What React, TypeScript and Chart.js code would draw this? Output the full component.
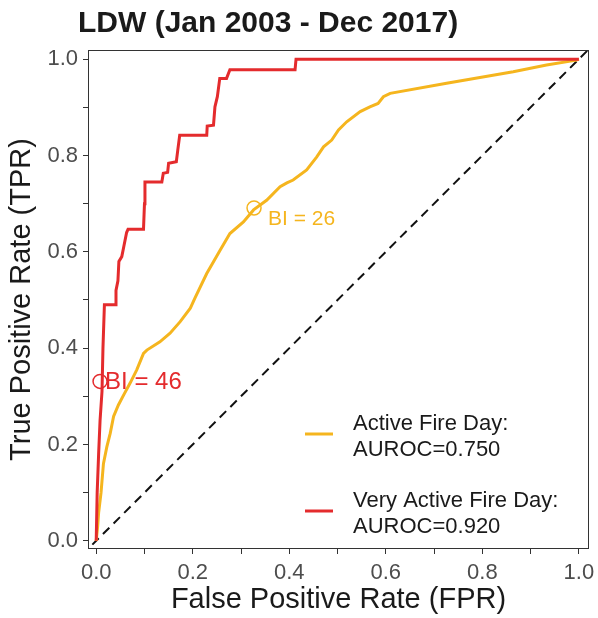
import React, { useEffect, useRef } from 'react';
import { Chart, registerables } from 'chart.js';

Chart.register(...registerables);

const TITLE = 'LDW (Jan 2003 - Dec 2017)';
const X_TITLE = 'False Positive Rate (FPR)';
const Y_TITLE = 'True Positive Rate (TPR)';
const TICKS = [0, 0.1, 0.2, 0.3, 0.4, 0.5, 0.6, 0.7, 0.8, 0.9, 1.0];
const TICK_LABELS = ['0.0', '', '0.2', '', '0.4', '', '0.6', '', '0.8', '', '1.0'];

const ACTIVE_FPR = [0, 0.003, 0.005, 0.010, 0.015, 0.022, 0.029, 0.036, 0.046, 0.057, 0.070, 0.084, 0.098, 0.105, 0.132, 0.153, 0.174, 0.195, 0.205, 0.229, 0.257, 0.277, 0.305, 0.326, 0.353, 0.381, 0.395, 0.408, 0.436, 0.457, 0.471, 0.488, 0.502, 0.519, 0.547, 0.567, 0.584, 0.595, 0.609, 0.726, 0.864, 0.933, 0.995, 1.0];
const ACTIVE_TPR = [0, 0.030, 0.058, 0.100, 0.160, 0.195, 0.223, 0.258, 0.282, 0.303, 0.327, 0.355, 0.389, 0.396, 0.413, 0.431, 0.455, 0.483, 0.505, 0.555, 0.604, 0.638, 0.662, 0.687, 0.707, 0.735, 0.743, 0.749, 0.770, 0.797, 0.818, 0.832, 0.853, 0.870, 0.891, 0.901, 0.908, 0.922, 0.929, 0.950, 0.974, 0.988, 0.998, 1.0];

const VERY_FPR = [0, 0.002, 0.005, 0.008, 0.012, 0.014, 0.016, 0.017, 0.039, 0.041, 0.045, 0.047, 0.053, 0.057, 0.063, 0.066, 0.098, 0.100, 0.101, 0.136, 0.139, 0.148, 0.150, 0.166, 0.169, 0.173, 0.229, 0.230, 0.243, 0.246, 0.251, 0.256, 0.270, 0.277, 0.412, 0.414, 1.0];
const VERY_TPR = [0, 0.100, 0.180, 0.250, 0.310, 0.400, 0.460, 0.490, 0.490, 0.520, 0.540, 0.580, 0.590, 0.610, 0.640, 0.647, 0.647, 0.700, 0.745, 0.745, 0.763, 0.765, 0.784, 0.787, 0.811, 0.842, 0.842, 0.861, 0.863, 0.901, 0.922, 0.960, 0.960, 0.978, 0.978, 1.0, 1.0];

const DIAG = [-0.03, 1.04];

const BI_LABELS = ['BI = 26', 'BI = 46'];
const BI_FPR = [0.327, 0.008];
const BI_TPR = [0.691, 0.331];

const LEGEND_LINES = [
  ['Active Fire Day:', 'AUROC=0.750'],
  ['Very Active Fire Day:', 'AUROC=0.920'],
];

const ORANGE = '#F5B51E';
const RED = '#E42B2D';
const FONT = '"Liberation Sans", Arial, Helvetica, sans-serif';

const toXY = (xs: number[], ys: number[]) => xs.map((x, i) => ({ x, y: ys[i] }));

const decor = {
  id: 'decor',
  afterDatasetsDraw(chart: any) {
    const { ctx, chartArea: a, scales } = chart;
    const sx = scales.x;
    const sy = scales.y;
    ctx.save();
    // panel frame
    ctx.strokeStyle = '#333333';
    ctx.lineWidth = 1;
    ctx.strokeRect(a.left + 0.5, a.top + 0.5, a.right - a.left - 1, a.bottom - a.top - 1);

    // BI labels
    ctx.textBaseline = 'middle';
    ctx.textAlign = 'left';
    const biColors = [ORANGE, RED];
    const biSizes = [21, 24];
    const biOff = [[14, 11], [5, 1]];
    BI_LABELS.forEach((t, i) => {
      const px = sx.getPixelForValue(BI_FPR[i]);
      const py = sy.getPixelForValue(BI_TPR[i]);
      ctx.font = `${biSizes[i]}px ${FONT}`;
      ctx.fillStyle = biColors[i];
      ctx.fillText(t, px + biOff[i][0], py + biOff[i][1]);
    });

    // legend
    const keyColors = [ORANGE, RED];
    const baseY = [430, 507];
    LEGEND_LINES.forEach((lines, i) => {
      ctx.strokeStyle = keyColors[i];
      ctx.lineWidth = 3;
      ctx.beginPath();
      ctx.moveTo(305, baseY[i] + 4);
      ctx.lineTo(333, baseY[i] + 4);
      ctx.stroke();
      ctx.fillStyle = '#1a1a1a';
      ctx.font = `22px ${FONT}`;
      ctx.textBaseline = 'alphabetic';
      lines.forEach((l, j) => ctx.fillText(l, 353, baseY[i] + j * 26));
    });

    // title
    ctx.fillStyle = '#1a1a1a';
    ctx.font = `bold 30px ${FONT}`;
    ctx.textBaseline = 'alphabetic';
    ctx.fillText(TITLE, 78, 32);
    ctx.restore();
  },
};

export default function App() {
  const ref = useRef<HTMLCanvasElement>(null);
  useEffect(() => {
    if (!ref.current) return;
    const tickOpts = {
      font: { family: FONT, size: 22 },
      color: '#4d4d4d',
      autoSkip: false,
      maxRotation: 0,
      callback: (_v: any, i: number) => TICK_LABELS[i],
    };
    const chart = new Chart(ref.current, {
      type: 'line',
      data: {
        datasets: [
          {
            label: 'BI',
            data: toXY(BI_FPR, BI_TPR),
            showLine: false,
            pointRadius: 7,
            pointBorderWidth: 1.5,
            pointBorderColor: [ORANGE, RED],
            pointBackgroundColor: 'rgba(0,0,0,0)',
          },
          {
            label: 'Very Active Fire Day',
            data: toXY(VERY_FPR, VERY_TPR),
            borderColor: RED,
            borderWidth: 3,
            pointRadius: 0,
            tension: 0,
          },
          {
            label: 'Active Fire Day',
            data: toXY(ACTIVE_FPR, ACTIVE_TPR),
            borderColor: ORANGE,
            borderWidth: 3,
            pointRadius: 0,
            tension: 0,
          },
          {
            label: 'Chance',
            data: toXY(DIAG, DIAG),
            borderColor: '#111111',
            borderWidth: 2,
            borderDash: [9, 6],
            pointRadius: 0,
          },
        ],
      },
      options: {
        animation: false,
        responsive: true,
        maintainAspectRatio: false,
        layout: { padding: { left: 0, top: 50, right: 9, bottom: 0 } },
        plugins: { legend: { display: false }, tooltip: { enabled: false }, title: { display: false } },
        scales: {
          x: {
            type: 'linear',
            min: -0.017,
            max: 1.021,
            afterBuildTicks: (s: any) => { s.ticks = TICKS.map((v) => ({ value: v })); },
            afterFit: (s: any) => { s.height = 69; s.paddingLeft = 0; s.paddingRight = 0; },
            grid: { drawOnChartArea: false, drawTicks: true, tickLength: 5, color: '#333333', tickWidth: 1 },
            border: { display: false },
            ticks: { ...tickOpts, padding: 6 },
            title: { display: true, text: X_TITLE, font: { family: FONT, size: 29 }, color: '#1a1a1a', padding: { top: 0, bottom: 1 } },
          },
          y: {
            type: 'linear',
            min: -0.017,
            max: 1.019,
            afterBuildTicks: (s: any) => { s.ticks = TICKS.map((v) => ({ value: v })); },
            afterFit: (s: any) => { s.width = 88; s.paddingTop = 0; s.paddingBottom = 0; },
            grid: { drawOnChartArea: false, drawTicks: true, tickLength: 5, color: '#333333', tickWidth: 1 },
            border: { display: false },
            ticks: { ...tickOpts, padding: 5 },
            title: { display: true, text: Y_TITLE, font: { family: FONT, size: 29 }, color: '#1a1a1a', padding: { top: 5, bottom: 0 } },
          },
        },
      },
      plugins: [decor],
    } as any);
    return () => chart.destroy();
  }, []);
  return (
    <div style={{ position: 'fixed', left: 0, top: 0, width: 598, height: 618, background: '#fff' }}>
      <canvas ref={ref} />
    </div>
  );
}
